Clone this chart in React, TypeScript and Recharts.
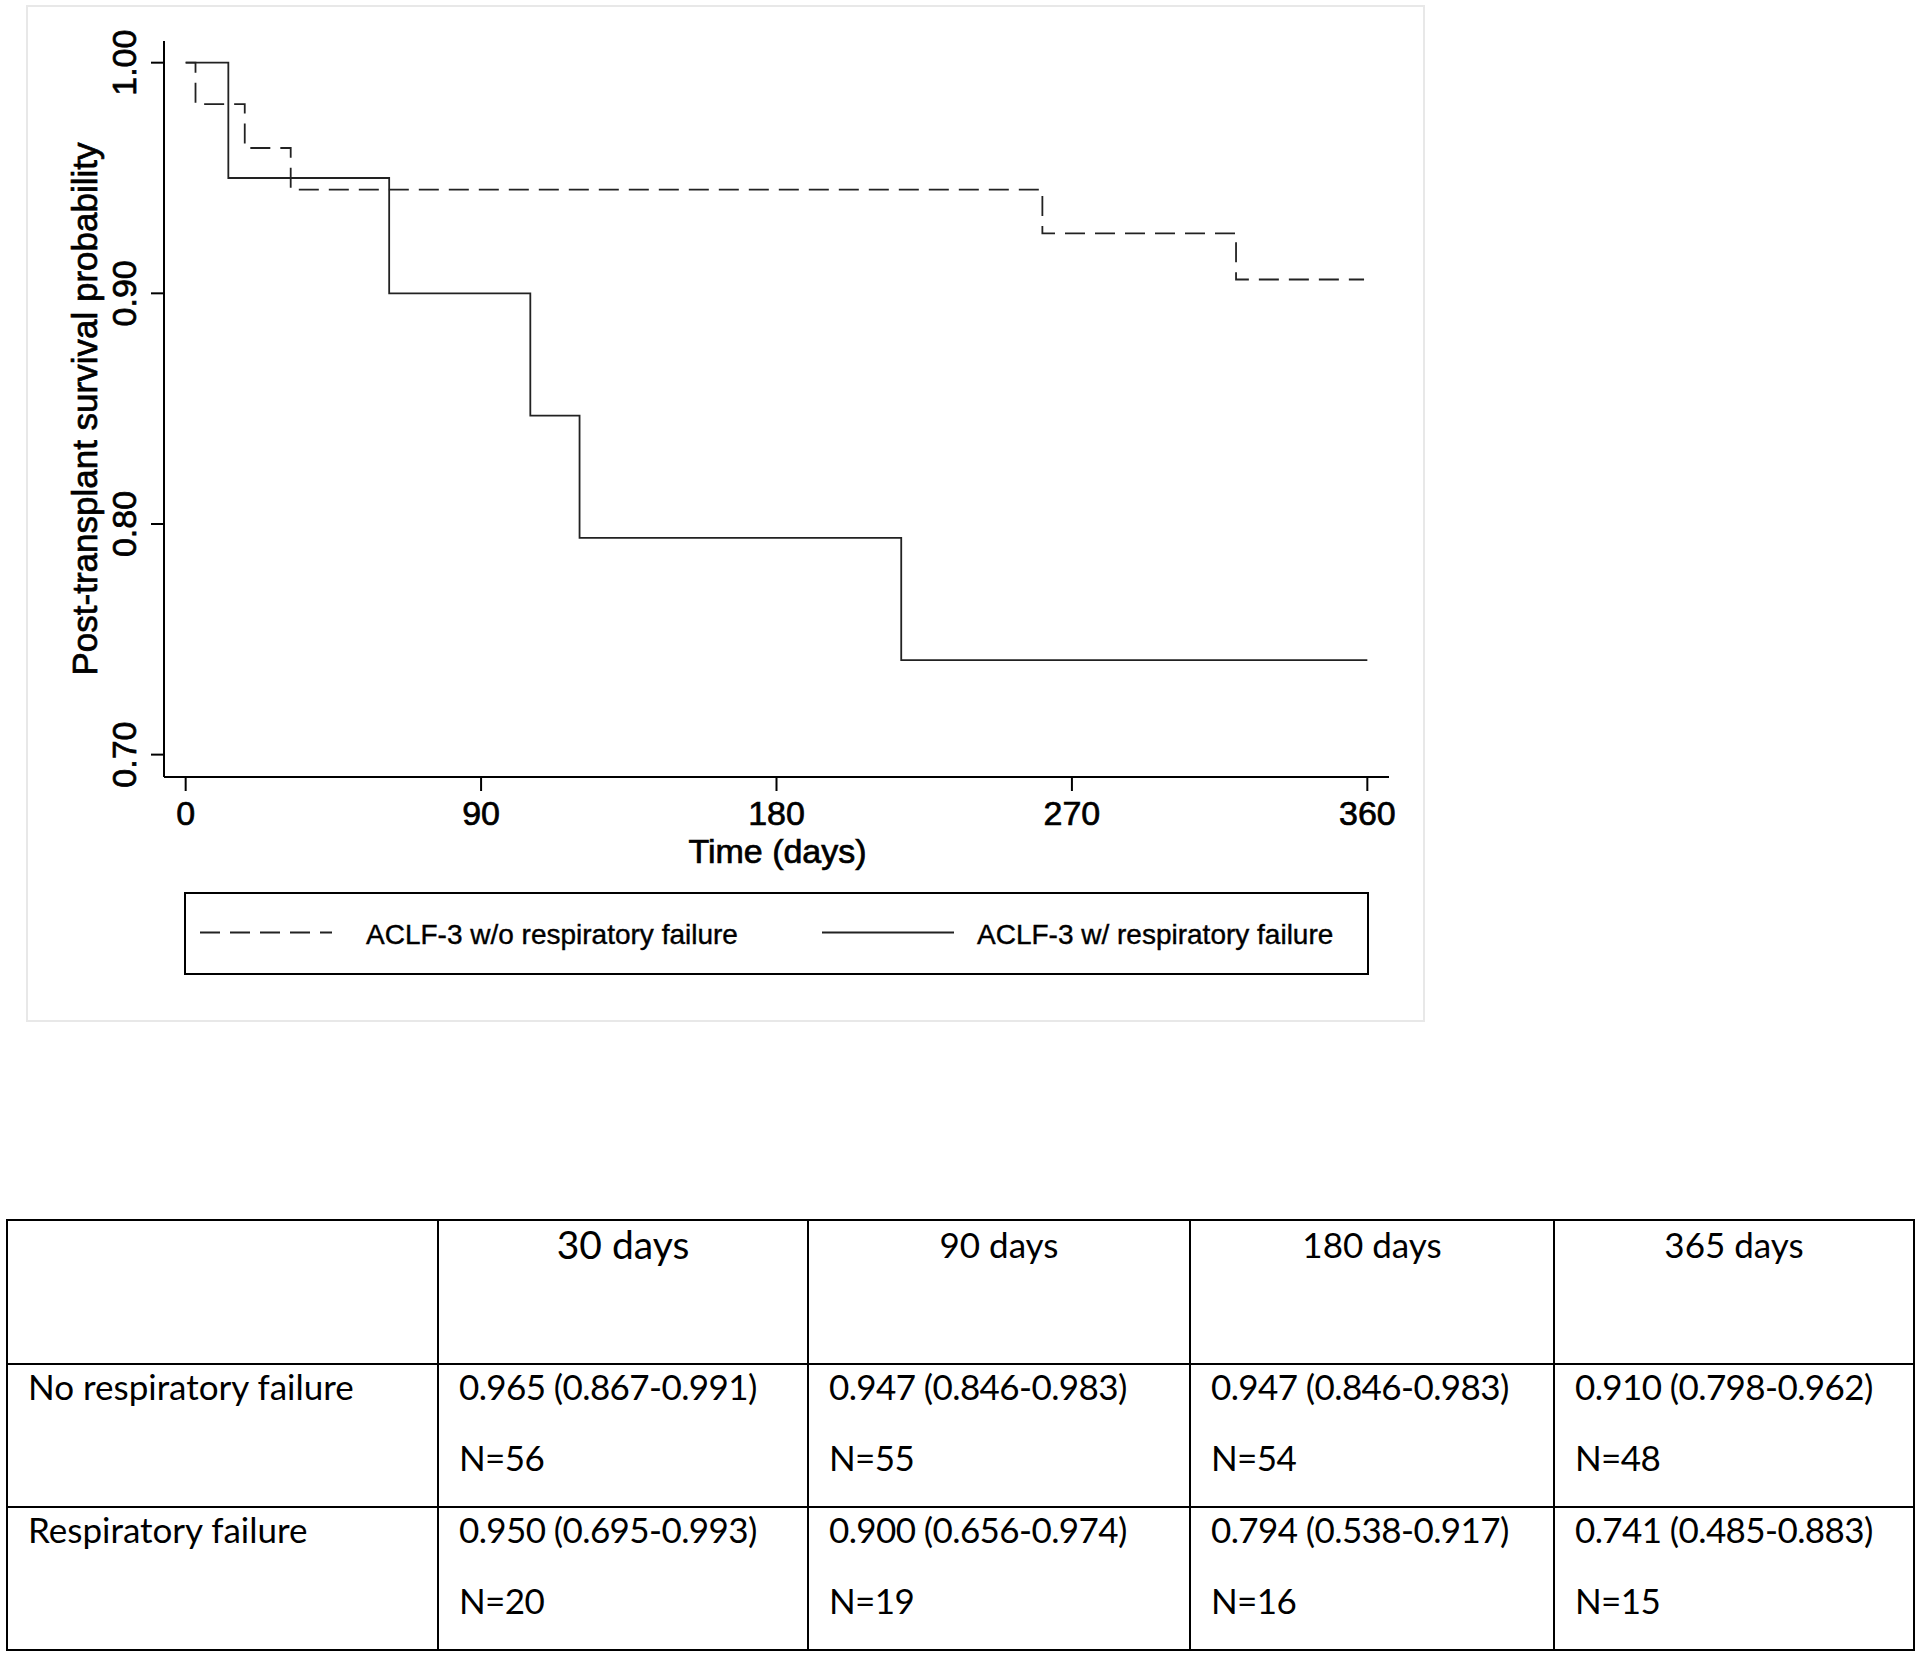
import { LineChart, Line, XAxis, YAxis, Label } from 'recharts';

// Kaplan-Meier steps
const noRfDays = [0, 3, 18, 32, 261, 320, 359];
const noRfSurv = [1.0, 0.982, 0.963, 0.945, 0.926, 0.906, 0.906];
const rfDays = [0, 13, 62, 105, 120, 218, 360];
const rfSurv = [1.0, 0.95, 0.9, 0.847, 0.794, 0.741, 0.741];

const xTicks = [0, 90, 180, 270, 360];
const yTicks = [0.7, 0.8, 0.9, 1.0];

const seriesNames = ['ACLF-3 w/o respiratory failure', 'ACLF-3 w/ respiratory failure'];

// table below the plot
const horizons = ['30 days', '90 days', '180 days', '365 days'];
const groups = ['No respiratory failure', 'Respiratory failure'];
const noRfEst = ['0.965 (0.867-0.991)', '0.947 (0.846-0.983)', '0.947 (0.846-0.983)', '0.910 (0.798-0.962)'];
const noRfN = [56, 55, 54, 48];
const rfEst = ['0.950 (0.695-0.993)', '0.900 (0.656-0.974)', '0.794 (0.538-0.917)', '0.741 (0.485-0.883)'];
const rfN = [20, 19, 16, 15];

const toRows = (days: number[], surv: number[]) => days.map((t, i) => ({ t, s: surv[i] }));
const noRfData = toRows(noRfDays, noRfSurv);
const rfData = toRows(rfDays, rfSurv);

const SANS = '"Liberation Sans", Arial, Helvetica, sans-serif';
const TABLE_FONT = 'Lato, "Open Sans", sans-serif';

// stata's raster text is a bit heavier than a plain svg glyph
const heavy = { stroke: '#000', strokeWidth: 0.7 };

function YTick(props: any) {
  const { x, y, payload } = props;
  const bx = x - 15;
  return (
    <text x={bx} y={y} transform={`rotate(-90, ${bx}, ${y})`} textAnchor="middle"
      fontSize={34} fontFamily={SANS} fill="#000" {...heavy}>
      {Number(payload.value).toFixed(2)}
    </text>
  );
}

function XTick(props: any) {
  const { x, y, payload } = props;
  return (
    <text x={x} y={y + 34} textAnchor="middle" fontSize={34} fontFamily={SANS} fill="#000" {...heavy}>
      {payload.value}
    </text>
  );
}

function Legend() {
  return (
    <svg width={1440} height={1030} style={{ position: 'absolute', left: 0, top: 0, pointerEvents: 'none' }}>
      <rect x={27} y={6} width={1397} height={1015} fill="none" stroke="#e8e8e8" strokeWidth={2} />
      <rect x={185} y={893} width={1183} height={81} fill="none" stroke="#000" strokeWidth={2} />
      <line x1={200} x2={332} y1={932.5} y2={932.5} stroke="#222" strokeWidth={1.8} strokeDasharray="20 10" />
      <text x={366} y={944} fontSize={28} fontFamily={SANS} fill="#000" stroke="#000" strokeWidth={0.4}>{seriesNames[0]}</text>
      <line x1={822} x2={954} y1={932.5} y2={932.5} stroke="#222" strokeWidth={1.8} />
      <text x={977} y={944} fontSize={28} fontFamily={SANS} fill="#000" stroke="#000" strokeWidth={0.4}>{seriesNames[1]}</text>
    </svg>
  );
}

const cellBorder = '2px solid #000';

function ResultTable() {
  const colW = [431, 370, 382, 364, 360];
  const rows = [
    { name: groups[0], est: noRfEst, n: noRfN },
    { name: groups[1], est: rfEst, n: rfN },
  ];
  const td: React.CSSProperties = {
    border: cellBorder,
    verticalAlign: 'top',
    padding: '0 0 0 20px',
    fontFamily: TABLE_FONT,
    fontSize: 35,
    color: '#000',
    lineHeight: '40px',
  };
  return (
    <table style={{ position: 'absolute', left: 6, top: 1219, borderCollapse: 'collapse', tableLayout: 'fixed', width: 1907 }}>
      <colgroup>
        {colW.map((w, i) => <col key={i} style={{ width: w }} />)}
      </colgroup>
      <tbody>
        <tr style={{ height: 144 }}>
          <td style={td}></td>
          {horizons.map((h, i) => (
            <td key={h} style={{ ...td, padding: '3px 0 0 0', textAlign: 'center', fontSize: i === 0 ? 39 : 35 }}>{h}</td>
          ))}
        </tr>
        {rows.map((r) => (
          <tr key={r.name} style={{ height: 143 }}>
            <td style={{ ...td, paddingTop: 1 }}>{r.name}</td>
            {r.est.map((e, i) => (
              <td key={i} style={{ ...td, paddingTop: 1, letterSpacing: -0.6 }}>
                <div>{e}</div>
                <div style={{ marginTop: 31 }}>N={r.n[i]}</div>
              </td>
            ))}
          </tr>
        ))}
      </tbody>
    </table>
  );
}

export default function App() {
  return (
    <div style={{ position: 'absolute', left: 0, top: 0, width: 1920, height: 1657, background: '#fff', overflow: 'hidden' }}>
      <div style={{ position: 'absolute', left: 0, top: 0 }}>
        <LineChart width={1440} height={1030} margin={{ top: 41, right: 51, bottom: 0, left: 0 }}>
          <XAxis
            type="number"
            dataKey="t"
            domain={[-6.6, 366.6]}
            ticks={xTicks}
            allowDataOverflow
            height={253}
            tickSize={14}
            tickMargin={0}
            axisLine={{ stroke: '#000', strokeWidth: 2 }}
            tickLine={{ stroke: '#000', strokeWidth: 2 }}
            tick={<XTick />}
          >
            <Label
              content={(p: any) => {
                const vb = p.viewBox;
                return (
                  <text x={vb.x + vb.width / 2 + 1} y={vb.y + 86} textAnchor="middle" fontSize={34} fontFamily={SANS} fill="#000" {...heavy}>
                    Time (days)
                  </text>
                );
              }}
            />
          </XAxis>
          <YAxis
            type="number"
            domain={[0.6903, 1.0094]}
            ticks={yTicks}
            allowDataOverflow
            width={164}
            tickSize={13}
            tickMargin={0}
            axisLine={{ stroke: '#000', strokeWidth: 2 }}
            tickLine={{ stroke: '#000', strokeWidth: 2 }}
            tick={<YTick />}
          >
            <Label
              content={(p: any) => {
                const vb = p.viewBox;
                const cy = vb.y + vb.height / 2;
                return (
                  <text x={97} y={cy} transform={`rotate(-90, 97, ${cy})`} textAnchor="middle" fontSize={35} fontFamily={SANS} fill="#000" {...heavy}>
                    Post-transplant survival probability
                  </text>
                );
              }}
            />
          </YAxis>
          <Line data={noRfData} dataKey="s" type="stepAfter" stroke="#222" strokeWidth={1.8}
            strokeDasharray="20 10" dot={false} activeDot={false} isAnimationActive={false} name={seriesNames[0]} />
          <Line data={rfData} dataKey="s" type="stepAfter" stroke="#222" strokeWidth={1.8}
            dot={false} activeDot={false} isAnimationActive={false} name={seriesNames[1]} />
        </LineChart>
        <Legend />
      </div>
      <ResultTable />
    </div>
  );
}
